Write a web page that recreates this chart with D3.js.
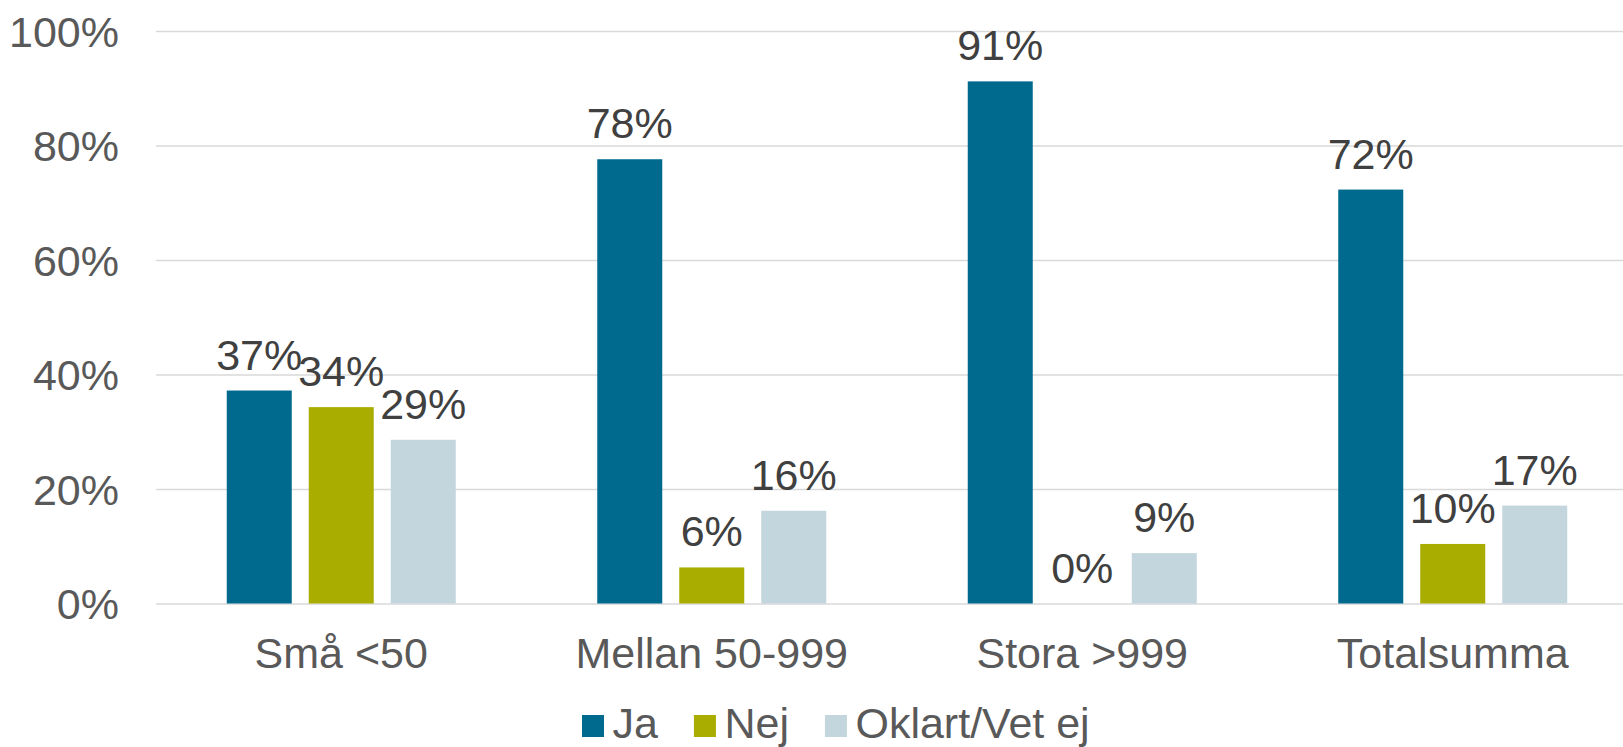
<!DOCTYPE html>
<html>
<head>
<meta charset="utf-8">
<script src="https://cdn.jsdelivr.net/npm/d3@7"></script>
<style>
  body { margin: 0; background: #fff; }
  svg { display: block; font-family: "Liberation Sans", Arial, sans-serif; }
</style>
</head>
<body>
<div id="chart"></div>
<script>
'use strict'

// data
const categories = ['Små <50', 'Mellan 50-999', 'Stora >999', 'Totalsumma'];
const seriesNames = ['Ja', 'Nej', 'Oklart/Vet ej'];
const ja = [0.372, 0.776, 0.912, 0.723];
const nej = [0.343, 0.063, 0.0, 0.104];
const oklart = [0.286, 0.162, 0.088, 0.171];
const yTicks = [0, 0.2, 0.4, 0.6, 0.8, 1.0];
const colors = ['#006a8e', '#a9ad00', '#c4d6dd'];

const seriesValues = [ja, nej, oklart];

const W = 1623, H = 747;
const margin = { top: 31, left: 156, bottom: 603.5, right: 1638 };

const svg = d3.select('#chart').append('svg')
  .attr('width', W)
  .attr('height', H);

const y = d3.scaleLinear()
  .domain([0, 1])
  .range([margin.bottom, margin.top]);

const x0 = d3.scaleBand()
  .domain(categories)
  .range([margin.left, margin.right]);

const x1 = d3.scaleBand()
  .domain(seriesNames)
  .range([0, x0.bandwidth()])
  .paddingInner(17 / 82)
  .paddingOuter(0.8628);

// gridlines + tick labels
const yAxis = d3.axisLeft(y)
  .tickValues(yTicks)
  .tickFormat(d3.format('.0%'))
  .tickSize(-(margin.right - margin.left))
  .tickPadding(37);

const yg = svg.append('g')
  .attr('transform', 'translate(' + margin.left + ',0)')
  .call(yAxis);
yg.select('.domain').remove();
yg.selectAll('line')
  .style('stroke', '#d9d9d9')
  .style('stroke-width', 1.4);
yg.selectAll('text')
  .style('font-size', '43px')
  .style('fill', '#595959')
  .style('font-family', '"Liberation Sans", Arial, sans-serif')
  .attr('dy', '0.35em');

// bars
const groups = svg.selectAll('g.cat')
  .data(categories)
  .enter().append('g')
  .attr('class', 'cat')
  .attr('transform', d => 'translate(' + x0(d) + ',0)');

const rows = (ci) => seriesNames.map((s, si) => ({ s: s, si: si, v: seriesValues[si][ci] }));

groups.selectAll('rect')
  .data((d, ci) => rows(ci))
  .enter().append('rect')
  .attr('x', d => x1(d.s))
  .attr('width', x1.bandwidth())
  .attr('y', d => y(d.v))
  .attr('height', d => y(0) - y(d.v))
  .style('fill', d => colors[d.si]);

// value labels
groups.selectAll('text.val')
  .data((d, ci) => rows(ci))
  .enter().append('text')
  .attr('class', 'val')
  .attr('x', d => x1(d.s) + x1.bandwidth() / 2)
  .attr('y', d => y(d.v) - 21)
  .style('text-anchor', 'middle')
  .style('font-size', '43px')
  .style('fill', '#404040')
  .text(d => d3.format('.0%')(d.v));

// category labels
svg.selectAll('text.cat')
  .data(categories)
  .enter().append('text')
  .attr('class', 'cat')
  .attr('x', d => x0(d) + x0.bandwidth() / 2)
  .attr('y', 668)
  .style('text-anchor', 'middle')
  .style('font-size', '43px')
  .style('fill', '#595959')
  .text(d => d);

// legend
const legend = svg.append('g').attr('transform', 'translate(582,0)');
let lx = 0;
seriesNames.forEach((name, i) => {
  legend.append('rect')
    .attr('x', lx)
    .attr('y', 715)
    .attr('width', 22)
    .attr('height', 22)
    .style('fill', colors[i]);
  const t = legend.append('text')
    .attr('x', lx + 30.5)
    .attr('y', 738)
    .style('font-size', '43px')
    .style('fill', '#595959')
    .text(name);
  lx += 30.5 + t.node().getComputedTextLength() + 36;
});
</script>
</body>
</html>
